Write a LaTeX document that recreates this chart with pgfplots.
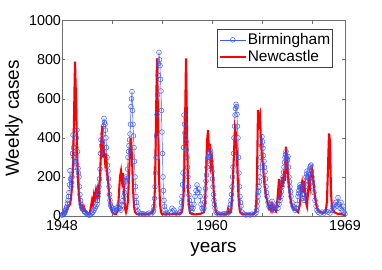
\documentclass[border=0pt]{standalone}
\usepackage{pgfplots}
\pgfplotsset{compat=1.18}
\usepackage{fontspec}
\setmainfont{Liberation Sans}
\definecolor{bham}{RGB}{60,90,255}
\definecolor{ncl}{RGB}{255,0,0}
\definecolor{axgray}{RGB}{110,110,110}

\pgfplotstableread{
u v
0 10
2 15
4 25
6 45
8 60
9 90
10 150
11 250
12 500
13 790
14 600
15 350
16 180
17 100
18 60
19 40
20 50
21 30
22 45
23 25
24 20
25 15
26 10
27 12
28 20
29 50
30 80
31 60
32 110
33 90
34 130
35 100
36 140
37 110
38 200
39 330
40 460
41 300
42 340
43 280
44 320
45 220
46 180
47 120
48 70
49 40
50 20
52 12
54 10
56 30
57 120
58 200
59 230
60 180
61 220
62 130
63 40
64 20
65 40
66 80
67 200
68 330
69 400
70 300
71 140
72 50
73 20
75 10
78 8
81 10
84 8
87 12
90 15
92 40
93 150
94 500
95 807
96 500
97 200
98 60
99 20
100 10
103 8
106 10
109 8
112 10
115 12
118 10
120 20
121 60
122 150
123 450
124 807
125 450
126 150
127 50
128 15
130 10
133 8
136 10
139 12
142 20
143 60
144 200
145 380
146 440
147 330
148 370
149 260
150 290
151 200
152 100
153 50
154 20
156 10
159 8
162 10
165 12
166 35
167 15
169 20
170 80
171 200
172 320
173 450
174 420
175 300
176 150
177 60
178 20
180 10
183 8
186 10
189 8
192 10
194 30
195 200
196 543
197 480
198 510
199 380
200 300
201 260
202 180
203 140
204 100
205 80
206 60
207 40
208 50
209 30
210 55
211 30
212 45
213 30
214 25
215 60
216 120
217 190
218 80
219 120
220 200
221 150
222 230
223 180
224 355
225 280
226 200
227 150
228 100
229 70
230 50
232 35
234 30
236 20
238 60
239 140
240 170
241 120
242 180
243 130
244 70
245 50
246 120
247 180
248 150
249 220
250 240
251 200
252 150
253 100
254 70
255 40
257 25
259 20
261 15
263 20
264 30
265 80
266 250
267 423
268 380
269 120
270 40
272 20
274 15
276 10
278 12
280 8
283 5
}\newcastle

\pgfplotstableread{
u v
0 5
0.5 6
1 8
1.5 10
2 12
2.5 15
3 20
3.5 28
4 35
4.5 42
5 50
5.5 65
6 80
6.5 100
7 120
7.5 160
8 232
8.5 190
9 150
9.5 170
10 200
10.5 320
11 415
11.5 350
12 300
12.5 280
13 250
13.5 300
14 350
14.5 400
15 440
15.5 330
16 244
16.5 220
17 200
17.5 150
18 110
18.5 80
19 60
19.5 50
20 40
21 35
22 25
23 20
24 15
25 10
26 8
27 5
28 5
29 10
30 15
31 20
32 30
33 40
34 50
35 60
35.5 80
36 100
36.5 120
37 150
37.5 190
38 240
38.5 320
39 390
39.5 360
40 330
40.5 380
41 420
41.5 460
42 500
42.5 480
43 470
43.5 440
44 400
44.5 350
45 300
45.5 260
46 230
46.5 190
47 150
47.5 110
48 80
48.5 60
49 50
50 40
51 30
52 25
53 35
54 40
55 30
56 45
57 60
58 40
59 30
60 55
61 80
62 100
62.5 120
63 150
63.5 180
64 200
64.5 190
65 176
65.5 240
66 300
66.5 330
67 360
67.5 390
68 420
68.5 470
69 560
69.5 600
70 637
70.5 540
71 470
71.5 410
72 350
72.5 280
73 200
73.5 150
74 100
74.5 70
75 50
76 25
77 15
79 10
81 12
83 8
85 10
87 15
89 10
91 20
91.5 30
92 50
92.5 90
93 150
93.5 220
94 300
94.5 410
95 520
95.5 620
96 720
96.5 780
97 838
97.5 800
98 770
98.5 700
99 640
99.5 540
100 430
100.5 320
101 200
101.5 130
102 80
102.5 50
103 30
104 15
106 10
108 20
110 40
112 30
114 15
116 10
118 20
119 40
119.5 70
120 100
120.5 160
121 220
121.5 350
122 517
122.5 470
123 425
123.5 400
124 380
124.5 340
125 300
125.5 250
126 200
126.5 150
127 108
127.5 80
128 60
129 40
130 30
131 40
132 60
133 100
134 130
135 159
136 120
137 138
138 100
139 60
140 40
141 30
142 40
142.5 70
143 100
143.5 140
144 180
144.5 210
145 250
145.5 280
146 300
146.5 305
147 312
147.5 325
148 340
148.5 310
149 280
149.5 250
150 230
150.5 190
151 150
151.5 110
152 80
152.5 60
153 40
154 20
155 15
157 10
159 8
161 10
163 12
165 10
167 20
168 40
168.5 60
169 80
169.5 110
170 150
170.5 200
171 250
171.5 320
172 400
172.5 460
173 517
173.5 550
174 572
174.5 560
175 520
175.5 460
176 400
176.5 300
177 220
177.5 150
178 100
178.5 70
179 50
180 20
182 10
184 5
186 8
188 5
190 10
192 8
194 15
194.5 30
195 50
195.5 75
196 100
196.5 125
197 150
197.5 175
198 200
198.5 250
199 300
199.5 360
200 406
200.5 380
201 347
201.5 310
202 280
202.5 250
203 227
203.5 190
204 150
204.5 120
205 100
206 70
207 50
208 40
209 60
210 75
211 50
212 40
213 30
214 50
215 60
216 40
217 60
218 80
219 100
219.5 125
220 150
220.5 175
221 200
221.5 225
222 250
222.5 275
223 300
223.5 315
224 330
224.5 300
225 280
225.5 290
226 304
226.5 250
227 200
227.5 175
228 150
228.5 125
229 100
230 70
231 50
232 40
233 30
234 40
235 60
236 100
236.5 115
237 130
237.5 145
238 160
238.5 150
239 140
240 110
241 90
242 80
242.5 110
243 150
243.5 175
244 200
244.5 215
245 230
245.5 200
246 180
246.5 200
247 220
247.5 235
248 250
248.5 255
249 261
249.5 230
250 200
250.5 175
251 150
252 120
253 80
254 50
255 30
256 20
258 15
260 20
262 15
264 25
266 20
268 15
270 30
271 50
272 40
273 60
274 70
275 50
276 94
277 60
278 40
279 70
280 30
281 50
282 20
283 10
}\birmingham

\begin{document}
\begin{tikzpicture}
\begin{axis}[
  scale only axis,
  width=283bp, height=195.3bp,
  xmin=0, xmax=283, ymin=0, ymax=1000,
  clip=false,
  xtick={0,50,100,150,200,250,283},
  xticklabels={1948,,,1960,,,1969},
  ytick={0,200,400,600,800,1000},
  /pgf/number format/1000 sep={},
  /pgf/number format/assume math mode=true,
  tick align=inside,
  major tick length=3bp,
  axis line style={axgray, line width=0.6bp},
  every tick/.style={axgray, line width=0.6bp},
  ticklabel style={font=\fontsize{14.4}{16}\selectfont, text=black},
  yticklabel style={xshift=2.5bp},
  xticklabel style={yshift=-1bp},
  xlabel={years},
  ylabel={Weekly cases},
  label style={font=\fontsize{19}{22}\selectfont},
  xlabel style={at={(axis description cs:0.5353,-0.1715)}, anchor=center},
  ylabel style={at={(axis description cs:-0.1696,0.5)}, anchor=center},
  legend style={at={(axis description cs:1,1)}, anchor=north east,
    xshift=-12bp, yshift=-8.5bp, draw=black!75, line width=0.6bp,
    font=\fontsize{15.5}{18}\selectfont,
    inner xsep=1.5bp, inner ysep=3bp, row sep=2.5bp,
    nodes={inner sep=1bp}},
  legend cell align=left,
  legend image code/.code={\draw[mark repeat=2,mark phase=2,#1] plot coordinates {(0bp,0bp)(13bp,0bp)(26bp,0bp)};},
]
\addplot[color=bham, line width=0.5bp, mark=o, mark size=2.4bp, mark options={line width=0.5bp}] table[x=u,y=v] {\birmingham};
\addlegendentry{Birmingham}
\addplot[color=ncl, line width=2.1bp, no marks] table[x=u,y=v] {\newcastle};
\addlegendentry{Newcastle}
\end{axis}
\pgfresetboundingbox
\path[use as bounding box] (current axis.south west) ++(-62bp,-54bp) rectangle ++(382bp,270bp);
\end{tikzpicture}
\end{document}
